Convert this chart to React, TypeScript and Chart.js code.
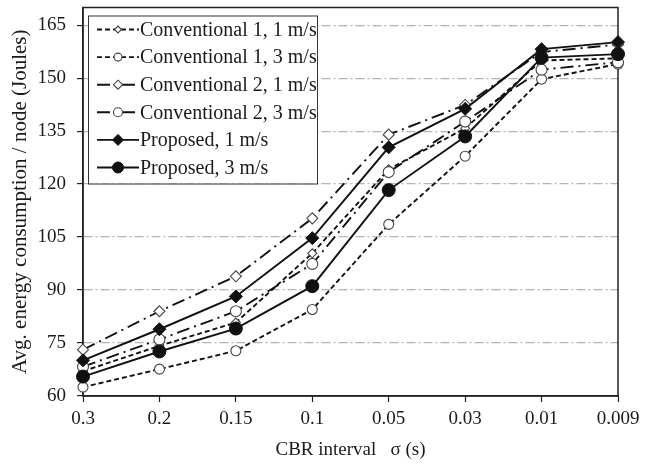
import React, { useEffect, useRef } from "react";
import { Chart, registerables } from "chart.js";

Chart.register(...registerables);

// CBR interval categories (s)
const intervals = ["0.3", "0.2", "0.15", "0.1", "0.05", "0.03", "0.01", "0.009"];

// Y axis tick values (Joules)
const yTickValues = [60, 75, 90, 105, 120, 135, 150, 165];
const yMin = 60;
const yMax = 170;

// Average energy consumption per node (Joules)
const conventional1Speed1 = [67.0, 74.2, 80.8, 100.4, 124.2, 135.8, 155.0, 155.6];
const conventional1Speed3 = [62.5, 67.6, 72.8, 84.5, 108.6, 127.9, 149.7, 154.0];
const conventional2Speed1 = [73.1, 84.0, 93.9, 110.3, 134.0, 142.4, 157.4, 159.5];
const conventional2Speed3 = [68.3, 76.0, 84.0, 97.4, 123.4, 137.7, 152.4, 154.5];
const proposedSpeed1 = [70.1, 78.9, 88.2, 104.7, 130.4, 141.3, 158.2, 160.2];
const proposedSpeed3 = [65.5, 72.6, 79.1, 91.1, 118.3, 133.5, 155.8, 156.8];

const seriesLabels = [
  "Conventional 1, 1 m/s",
  "Conventional 1, 3 m/s",
  "Conventional 2, 1 m/s",
  "Conventional 2, 3 m/s",
  "Proposed, 1 m/s",
  "Proposed, 3 m/s",
];

const FONT = "'Liberation Serif', 'Times New Roman', serif";
const INK = "#111";
const SHORT_DASH = [5, 3];
const DASH_DOT = [13, 5, 2, 5];

function drawMarker(
  ctx: CanvasRenderingContext2D,
  style: string,
  x: number,
  y: number,
  r: number,
  fill: string,
  stroke: string,
  width: number
) {
  ctx.beginPath();
  if (style === "rectRot") {
    ctx.moveTo(x, y - r);
    ctx.lineTo(x + r, y);
    ctx.lineTo(x, y + r);
    ctx.lineTo(x - r, y);
    ctx.closePath();
  } else {
    ctx.arc(x, y, r, 0, Math.PI * 2);
  }
  ctx.fillStyle = fill;
  ctx.fill();
  ctx.lineWidth = width;
  ctx.strokeStyle = stroke;
  ctx.stroke();
}

// Frame around the plot area (top and right sides included)
const plotFrame = {
  id: "plotFrame",
  beforeDatasetsDraw(chart: any) {
    const { ctx, chartArea: a } = chart;
    ctx.save();
    ctx.strokeStyle = "#222";
    ctx.lineWidth = 1.5;
    ctx.strokeRect(a.left, a.top, a.right - a.left, a.bottom - a.top);
    ctx.restore();
  },
};

// Boxed legend placed inside the upper-left corner of the plot
const boxedLegend = {
  id: "boxedLegend",
  afterDraw(chart: any) {
    const { ctx, chartArea: a } = chart;
    const x0 = a.left + 5;
    const y0 = a.top + 8;
    const w = 229;
    const rowH = 27.6;
    const h = 168;
    ctx.save();
    ctx.fillStyle = "#fff";
    ctx.fillRect(x0, y0, w, h);
    ctx.strokeStyle = "#333";
    ctx.lineWidth = 1;
    ctx.strokeRect(x0 + 0.5, y0 + 0.5, w, h);
    ctx.font = `20px ${FONT}`;
    ctx.textBaseline = "middle";
    chart.data.datasets.forEach((ds: any, i: number) => {
      const cy = y0 + 14 + i * rowH;
      ctx.setLineDash(ds.borderDash || []);
      ctx.lineWidth = ds.borderWidth;
      ctx.strokeStyle = ds.borderColor;
      ctx.beginPath();
      ctx.moveTo(x0 + 9, cy);
      ctx.lineTo(x0 + 51, cy);
      ctx.stroke();
      ctx.setLineDash([]);
      drawMarker(
        ctx,
        ds.pointStyle,
        x0 + 30,
        cy,
        Math.max(3.5, ds.pointRadius - 1),
        ds.pointBackgroundColor,
        ds.pointBorderColor,
        ds.pointBorderWidth
      );
      ctx.fillStyle = "#1a1a1a";
      ctx.fillText(ds.label, x0 + 52, cy + 1);
    });
    ctx.restore();
  },
};

function App() {
  const canvasRef = useRef<HTMLCanvasElement | null>(null);

  useEffect(() => {
    if (!canvasRef.current) return;

    const series = [
      { data: conventional1Speed1, dash: SHORT_DASH, style: "rectRot", filled: false, r: 4.5, order: 5 },
      { data: conventional1Speed3, dash: SHORT_DASH, style: "circle", filled: false, r: 5, order: 4 },
      { data: conventional2Speed1, dash: DASH_DOT, style: "rectRot", filled: false, r: 5.5, order: 3 },
      { data: conventional2Speed3, dash: DASH_DOT, style: "circle", filled: false, r: 5.5, order: 2 },
      { data: proposedSpeed1, dash: [], style: "rectRot", filled: true, r: 6.5, order: 1 },
      { data: proposedSpeed3, dash: [], style: "circle", filled: true, r: 6.5, order: 0 },
    ];

    const chart = new Chart(canvasRef.current, {
      type: "line",
      data: {
        labels: intervals,
        datasets: series.map((s, i) => ({
          label: seriesLabels[i],
          data: s.data,
          borderColor: INK,
          borderWidth: 1.9,
          borderDash: s.dash,
          pointStyle: s.style,
          pointRadius: s.r,
          pointBackgroundColor: s.filled ? INK : "#fff",
          pointBorderColor: s.filled ? INK : "#444",
          pointBorderWidth: s.filled ? 1 : 1.1,
          tension: 0,
          fill: false,
          order: s.order,
        })),
      },
      options: {
        responsive: false,
        animation: false,
        devicePixelRatio: 1,
        layout: { padding: { top: 5, right: 43, left: 0, bottom: 0 } },
        plugins: {
          legend: { display: false },
          tooltip: { enabled: false },
        },
        scales: {
          x: {
            type: "category",
            offset: false,
            grid: {
              drawOnChartArea: false,
              drawTicks: true,
              tickLength: 6,
              tickColor: "#222",
              tickWidth: 1.2,
            },
            border: { display: true, color: "#222", width: 1.5 },
            ticks: {
              color: "#1a1a1a",
              padding: 6,
              maxRotation: 0,
              autoSkip: false,
              font: { family: FONT, size: 19 },
            },
            title: {
              display: true,
              text: "CBR interval   σ (s)",
              color: "#1a1a1a",
              padding: { top: 5, bottom: 5 },
              font: { family: FONT, size: 19 },
            },
            afterFit(scale: any) {
              scale.height = 70;
              scale.paddingLeft = 0;
              scale.paddingRight = 0;
            },
          },
          y: {
            type: "linear",
            min: yMin,
            max: yMax,
            afterBuildTicks(scale: any) {
              scale.ticks = yTickValues.map((v) => ({ value: v }));
            },
            grid: {
              drawOnChartArea: true,
              drawTicks: true,
              tickLength: 6,
              color: (c: any) => (c.tick && c.tick.value === yMin ? "rgba(0,0,0,0)" : "#b4b4b4"),
              lineWidth: 1.2,
              tickColor: "#222",
              tickWidth: 1.2,
              tickBorderDash: [],
            },
            border: { display: true, color: "#222", width: 1.5, dash: [9, 3, 2, 3] },
            ticks: {
              color: "#1a1a1a",
              padding: 11,
              font: { family: FONT, size: 19 },
            },
            title: {
              display: true,
              text: "Avg. energy consumption / node (Joules)",
              color: "#1a1a1a",
              padding: { top: 8, bottom: 8 },
              font: { family: FONT, size: 21 },
            },
            afterFit(scale: any) {
              scale.width = 83;
              scale.paddingTop = 0;
              scale.paddingBottom = 0;
            },
          },
        },
      },
      plugins: [plotFrame, boxedLegend],
    } as any);

    return () => chart.destroy();
  }, []);

  return (
    <div style={{ position: "absolute", left: 0, top: 0, width: 661, height: 466, background: "#fff" }}>
      <canvas ref={canvasRef} width={661} height={466} style={{ display: "block" }} />
    </div>
  );
}

export default App;
